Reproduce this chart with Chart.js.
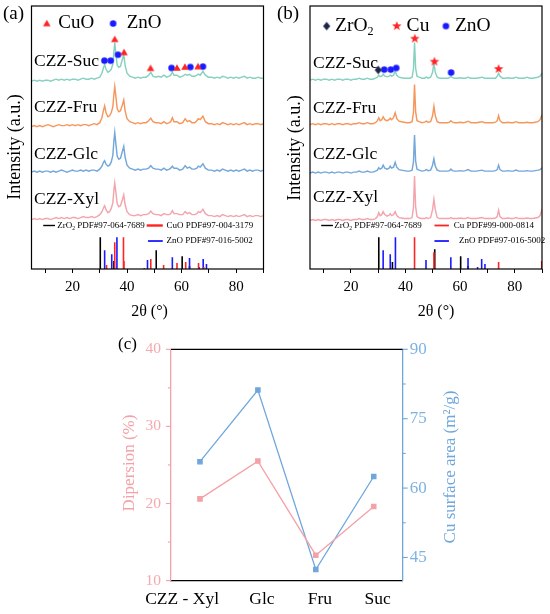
<!DOCTYPE html>
<html><head><meta charset="utf-8">
<script src="https://cdn.jsdelivr.net/npm/chart.js@4.4.1/dist/chart.umd.min.js"></script>
<style>
html,body{margin:0;padding:0;background:#fff;}
body{width:550px;height:614px;position:relative;overflow:hidden;}
.box{position:absolute;}
</style></head><body>
<div class="box" style="left:0;top:0;width:275px;height:322px"><canvas id="ca"></canvas></div>
<div class="box" style="left:275px;top:0;width:275px;height:322px"><canvas id="cb"></canvas></div>
<div class="box" style="left:100px;top:330px;width:380px;height:284px"><canvas id="cc"></canvas></div>
<script>
// ---------------- DATA ----------------
// Panel (a): XRD of calcined CZZ samples (stacked, a.u.)
const thetaA = [5,6,7,8,9,10,11,12,13,14,15,16,17,18,19,20,21,22,23,24,25,26,27,28,29,
30,30.8,31.4,31.8,32.3,33.0,33.6,34.2,34.8,35.2,35.5,35.9,36.4,37.0,37.6,38.3,38.8,39.3,40.0,
41,42,43,44,45,46,47,47.9,48.7,49.5,50.5,51.5,52.5,53.5,54.5,55.5,
56.0,56.6,57.2,58.3,59.3,60.4,61.3,62.1,62.9,63.8,64.8,65.6,66.1,66.8,67.8,68.7,69.8,
71,72,73,74,75,76,77,78,79,80,81,82,83,84,85,86,87,88,89,90];
const sucA = [190,191,190,191,190,191,191,190,191,192,191,192,191,192,191,192,192,191,192,193,192,192,193,192,193,
194,198,204,206.5,202,199,200,202,207,220,229,218,206,204,205,212,217,206,198,
195,194,193,194,193,194,194,196,199,195,194,195,194,196,194,195,
196,199,196,196,194,195,197,196,197,195,195,196,197,196,200,196,194,
194,193,194,193,195,194,193,194,193,194,193,194,195,193,194,193,193,194,193,193];
const fruA = [144,145,144,145,144,145,146,145,144,145,146,145,145,146,145,146,145,146,145,146,146,145,146,147,146,
148,153,161,165,158,154,155,158,164,177,184.5,175,162,159,160,166,171,160,152,
149,148,147,148,147,148,148,150,152.5,149,148,148,147,149,147,148,
149,153,149,149,147,148,152,149,150,148,148,150,152,151,154.5,149,147,
147,146,147,146,148,147,146,147,146,147,146,147,148,146,147,146,147,147,146,147];
const glcA = [98,99,98,99,98,99,99,98,99,98,99,100,99,98,99,100,99,99,100,99,100,99,100,100,99,
101,104,108,109.5,106,104,105,108,115,130,138,127,114,111,112,119,124,113,105,
102,101,100,101,100,101,101,102,104.5,102,101,101,100,102,100,101,
102,104,102,102,100,101,104.5,102,103,101,101,102,104,103,106.5,102,100,
100,99,100,99,101,100,99,100,99,100,99,100,101,99,100,99,100,100,99,100];
const xylA = [50,51,50,51,50,51,51,50,51,52,51,52,51,52,51,52,52,51,52,53,52,52,53,52,53,
55,58,62,64,60,57,58,61,67,80,87,78,66,63,64,70,75,65,58,
55,54,54,55,54,55,55,56,58.5,56,55,55,54,56,55,55,
56,59,56,56,55,55,58,56,57,55,55,56,58,57,60.5,56,54,
54,53,54,53,55,54,53,54,53,54,53,54,55,53,54,53,54,54,53,54];

// Panel (b): XRD of reduced CZZ samples (stacked, a.u.)
const thetaB = [5,6,7,8,9,10,11,12,13,14,15,16,17,18,19,20,21,22,23,24,25,26,27,28,
29,29.7,30.2,30.7,31.3,31.8,32.4,33.2,34.0,34.4,34.9,35.6,36.2,36.8,37.6,38.5,39.5,40.5,41.5,42.4,42.9,43.3,43.7,44.2,
45,46,47,47.6,48.3,49.2,49.9,50.4,50.9,51.6,52.5,53.5,54.5,55.5,56.1,56.6,57.2,58,59,60.2,61,62,62.9,
64,65,66,67,68,69,70,71,72,73,
73.6,74.1,74.6,
75.5,76.5,77.5,78.5,79.5,80.5,81.5,82.5,83.5,84.5,85.5,86.5,87.5,88.5,
89.3,90];
const sucB = [191,192,191,192,191,192,192,191,192,191,192,192,191,192,192,191,192,192,193,192,192,193,192,192,
193,194,196,194.5,195,197,195,194.5,195,196,195,196,200,196,194,193.5,193,193,193,194,202,229,203,195,
194,193,193,194,193,194,199,208,199,194,193,193,193,193,193.5,195,193.5,193,193,193.5,193,193,194,
193,193,193,193.5,194,193,193,193,193,193,
195,198,195,
193,193,193.5,193,193,194,193,193,193,194,193,193,193.5,194,
195,198];
const fruB = [146,147,146,147,146,147,147,146,147,146,147,147,146,147,147,146,147,147,148,147,147,148,147,147,
148,150,153,150,151,154,151,150,151,152.5,151,153,158,152,149.5,149,148.5,148,148,149,158,186.5,159,150,
149,148,148.5,149.5,148.5,149,155,164.5,155,149,148,148,148,148,148.5,150,148.5,148,148,148.5,148,148.5,149.5,
148,148,148,148.5,149,148,148,148,148,148.5,
150,155,150,
148,148,148.5,148,148,149,148,148,148,148.5,148,148,148.5,149,
151,156];
const glcB = [97,98,97,98,97,98,98,97,98,97,98,98,97,98,98,97,98,98,99,98,98,99,98,98,
99,100,102.5,101,102,105,102,101,102,104,102,103,108,103,100.5,100,99.5,99,99,100,108,135.5,109,101,
100,99,99.5,100.5,99.5,100,105,111.5,104,100,99,99,99,99,99.5,101,99.5,99,99,99.5,99,99.5,100.5,
99,99,99,99.5,100,99,99,99,99,99.5,
100.5,105,100.5,
99,99,99.5,99,99,100,99,99,99,99.5,99,99,99.5,100,
100.5,102.5];
const xylB = [49,50,49,50,49,50,50,49,50,49,50,50,49,50,50,49,50,50,51,50,50,51,50,50,
51,53,57,54,55,58,55,53.5,54.5,56,54,55,58,54,52,51.5,51,51,51,52,62,94,63,53,
51.5,51,51,52,51,52,60,70.5,60,52,51,51,51,51,51,52,51,51,51,51.5,51,51,52,
51,51,51,51.5,52,51,51,51,51,51.5,
53,59.5,53,
51,51,51.5,51,51,52,51,51,51,51.5,51,51,51.5,52,
54,60.5];

// Reference patterns (position 2θ, relative intensity a.u.)
const zro2Pos = [30.2,35.2,50.7,60.2,62.9];
const zro2IntA = [32,8,19,13,3];
const zro2IntB = [32,7,20,13,3];
const znoPos = [31.8,34.4,36.3,47.5,56.6,62.9,66.4,67.9,69.1];
const znoInt = [19,15,32,9,12,11,2,10,5];
const cuoPos = [32.5,35.5,38.7,38.9,46.3,48.7,53.4,58.3,61.5,66.2,68.1];
const cuoInt = [4,27,32,8,1,10,4,6,7,6,2];
const cuPos = [43.3,50.4,74.1,89.9];
const cuInt = [32,17,7,8];

// Phase markers over the CZZ-Suc patterns
const cuoMarkX = [35.5,38.9,48.6,58.3,61.2,66.0];
const cuoMarkY = [232.3,219,203,203.3,204.3,204.7];
const znoMarkXA = [31.7,34.0,36.7,56.3,63.2,67.8];
const znoMarkYA = [210.7,210.7,216.7,203.3,204.3,204.7];
const zro2MarkX = [30.0];
const zro2MarkY = [201.3];
const znoMarkXB = [32.2,34.6,36.6,56.7];
const znoMarkYB = [201.7,201.7,203.3,198.7];
const cuMarkX = [43.4,50.6,74.1];
const cuMarkY = [233,209.7,202.3];

const sampleNames = ['CZZ-Suc','CZZ-Fru','CZZ-Glc','CZZ-Xyl'];
const thetaTicks = [10,20,30,40,50,60,70,80,90];
const thetaLabels = [20,40,60,80];

// Panel (c)
const supports = ['CZZ - Xyl          ','Glc','Fru','Suc'];
const dispersion = [20.6,25.5,13.3,19.6];
const cuArea = [65.7,81.2,42.4,62.5];
const dispTicks = [10,20,30,40];
const dispMinor = [15,25,35];
const areaTicks = [45,60,75,90];
const areaMinor = [52.5,67.5,82.5];

// ---------------- STYLE / HELPERS ----------------
const SERIF = "'Liberation Serif','Times New Roman',serif";
Chart.defaults.font.family = SERIF;
const C_SUC='#86d1bf', C_FRU='#f5975c', C_GLC='#74a7da', C_XYL='#f3a5ae';
const RED='#ff2424', BLUE='#1a1aff', NAVY='#1b2744';
const PINK='#f4a1a7', SKY='#6fa7dc';

function mkMarker(shape,color,size){
  const c=document.createElement('canvas'); c.width=c.height=Math.ceil(size+2);
  const g=c.getContext('2d'); const m=c.width/2, r=size/2;
  g.fillStyle=color; g.beginPath();
  if(shape==='triangle'){g.moveTo(m,m-r);g.lineTo(m+r,m+r*0.75);g.lineTo(m-r,m+r*0.75);}
  else if(shape==='circle'){g.arc(m,m,r,0,Math.PI*2);}
  else if(shape==='diamond'){g.moveTo(m,m-r);g.lineTo(m+r*0.85,m);g.lineTo(m,m+r);g.lineTo(m-r*0.85,m);}
  else if(shape==='star'){for(let i=0;i<10;i++){const a=-Math.PI/2+i*Math.PI/5;const rr=i%2?r*0.42:r;g.lineTo(m+rr*Math.cos(a),m+rr*Math.sin(a));}}
  g.closePath(); g.fill(); return c;
}
const imgTri=mkMarker('triangle',RED,7.5), imgCirc=mkMarker('circle',BLUE,6.5),
      imgStar=mkMarker('star',RED,10), imgDia=mkMarker('diamond',NAVY,8.5);

function pts(xs,ys){return xs.map((x,i)=>({x:x,y:ys[i]}));}
function sticks(pos,ints){const d=[];pos.forEach((p,i)=>{d.push({x:p,y:0},{x:p,y:ints[i]},{x:p,y:null});});return d;}
function curve(xs,ys,color){return {data:pts(xs,ys),borderColor:color,borderWidth:1.45,pointRadius:0,tension:0,fill:false};}
function stickSet(pos,ints,color){return {data:sticks(pos,ints),borderColor:color,borderWidth:1.6,pointRadius:0,spanGaps:false,fill:false};}
function markSet(xs,ys,img){return {data:pts(xs,ys),showLine:false,pointStyle:img,pointRadius:5,pointHoverRadius:5};}

function drawParts(ctx,parts,x,y,size,color,align){
  ctx.fillStyle=color; ctx.textBaseline='middle'; ctx.textAlign='left';
  const ws=parts.map(p=>{const sub=typeof p!=='string';ctx.font=(sub?size*0.62:size)+'px '+SERIF;return ctx.measureText(sub?p.t:p).width;});
  const tot=ws.reduce((a,b)=>a+b,0);
  let cx= align==='center'? x-tot/2 : x;
  parts.forEach((p,i)=>{const sub=typeof p!=='string';ctx.font=(sub?size*0.62:size)+'px '+SERIF;ctx.fillText(sub?p.t:p,cx,y+(sub?size*0.3:0));cx+=ws[i];});
}

function annot(items,opt){
  return {id:'annot',afterDraw(chart){
    const ctx=chart.ctx, ca=chart.chartArea, sx=chart.scales.x, sy=chart.scales.y;
    const X=(it,v)=>it.data?sx.getPixelForValue(v):v;
    const Y=(it,v)=>it.data?sy.getPixelForValue(v):v;
    ctx.save();
    if(opt.frame){ctx.strokeStyle='#000';ctx.lineWidth=1.2;ctx.strokeRect(ca.left,ca.top,ca.right-ca.left,ca.bottom-ca.top);}
    if(opt.extra) opt.extra(chart,ctx);
    for(const it of items){
      if(it.k==='line'){ctx.strokeStyle=it.color;ctx.lineWidth=it.w;ctx.beginPath();ctx.moveTo(X(it,it.x1),Y(it,it.y));ctx.lineTo(X(it,it.x2),Y(it,it.y));ctx.stroke();}
      else if(it.k==='img'){const px=X(it,it.x),py=Y(it,it.y);ctx.drawImage(it.img,px-it.img.width/2,py-it.img.height/2);}
      else if(it.k==='text'){
        const px=X(it,it.x),py=Y(it,it.y);
        if(it.rot){ctx.save();ctx.translate(px,py);ctx.rotate(-Math.PI/2);drawParts(ctx,it.parts,0,0,it.size,it.color||'#000','center');ctx.restore();}
        else drawParts(ctx,it.parts,px,py,it.size,it.color||'#000',it.align||'left');
      }
    }
    ctx.restore();
  }};
}

function xrdOptions(padL,padR){
  return {responsive:true,maintainAspectRatio:false,animation:false,
    layout:{padding:{left:padL,right:padR,top:3,bottom:0}},
    plugins:{legend:{display:false},tooltip:{enabled:false}},
    scales:{
      x:{type:'linear',min:5,max:90,offset:false,
         grid:{drawOnChartArea:false,drawTicks:true,tickLength:4,color:'#000',lineWidth:1},
         border:{display:false},
         afterBuildTicks:s=>{s.ticks=thetaTicks.map(v=>({value:v}));},
         ticks:{autoSkip:false,maxRotation:0,padding:5,color:'#000',font:{family:SERIF,size:15},
                callback:v=>thetaLabels.includes(v)?String(v):''},
         afterFit:s=>{s.height=53;}},
      y:{display:false,min:0,max:266}
    }};
}

// ---------------- PANEL (a) ----------------
const itemsA=[
  {k:'text',parts:['(a)'],x:3,y:14,size:19},
  {k:'text',parts:['Intensity (a.u.)'],x:15.5,y:147,size:18,rot:true},
  {k:'text',parts:['2θ (°)'],x:149.5,y:312,size:16,align:'center'},
  {k:'img',img:imgTri,x:10.6,y:248.3,data:true},
  {k:'text',parts:['CuO'],x:14.8,y:248.3,size:19,data:true},
  {k:'img',img:imgCirc,x:34.9,y:248.3,data:true},
  {k:'text',parts:['ZnO'],x:39.9,y:248.3,size:19,data:true},
  {k:'text',parts:[sampleNames[0]],x:5.9,y:210,size:17.5,data:true},
  {k:'text',parts:[sampleNames[1]],x:5.9,y:163,size:17.5,data:true},
  {k:'text',parts:[sampleNames[2]],x:5.9,y:116,size:17.5,data:true},
  {k:'text',parts:[sampleNames[3]],x:5.9,y:70,size:17.5,data:true},
  {k:'line',x1:9.3,x2:13.6,y:44,color:'#000',w:1.4,data:true},
  {k:'text',parts:['ZrO',{t:'2'},' PDF#97-064-7689'],x:14.45,y:44,size:9,data:true},
  {k:'line',x1:47.2,x2:53.1,y:44,color:RED,w:2.4,data:true},
  {k:'text',parts:['CuO PDF#97-004-3179'],x:54.5,y:44,size:9,data:true},
  {k:'line',x1:47.7,x2:53.1,y:28.3,color:BLUE,w:1.8,data:true},
  {k:'text',parts:['ZnO PDF#97-016-5002'],x:54.5,y:28.3,size:9,data:true}
];
new Chart(document.getElementById('ca'),{
  type:'line',
  data:{datasets:[
    markSet(cuoMarkX,cuoMarkY,imgTri),
    markSet(znoMarkXA,znoMarkYA,imgCirc),
    curve(thetaA,sucA,C_SUC),curve(thetaA,fruA,C_FRU),curve(thetaA,glcA,C_GLC),curve(thetaA,xylA,C_XYL),
    stickSet(cuoPos,cuoInt,RED),stickSet(znoPos,znoInt,BLUE),stickSet(zro2Pos,zro2IntA,'#000')
  ]},
  options:xrdOptions(31.5,11.5),
  plugins:[annot(itemsA,{frame:true})]
});

// ---------------- PANEL (b) ----------------
const itemsB=[
  {k:'text',parts:['(b)'],x:2,y:14,size:19},
  {k:'text',parts:['Intensity (a.u.)'],x:20.5,y:148,size:18,rot:true},
  {k:'text',parts:['2θ (°)'],x:161,y:312,size:16,align:'center'},
  {k:'img',img:imgDia,x:11.1,y:245.7,data:true},
  {k:'text',parts:['ZrO',{t:'2'}],x:14.2,y:245.7,size:19.5,data:true},
  {k:'img',img:imgStar,x:36.8,y:245.7,data:true},
  {k:'text',parts:['Cu'],x:40.4,y:245.7,size:19.5,data:true},
  {k:'img',img:imgCirc,x:54.8,y:245.7,data:true},
  {k:'text',parts:['ZnO'],x:58.1,y:245.7,size:19.5,data:true},
  {k:'text',parts:[sampleNames[0]],x:6.1,y:208,size:17.5,data:true},
  {k:'text',parts:[sampleNames[1]],x:6.1,y:162.3,size:17.5,data:true},
  {k:'text',parts:[sampleNames[2]],x:6.1,y:115.7,size:17.5,data:true},
  {k:'text',parts:[sampleNames[3]],x:6.1,y:72,size:17.5,data:true},
  {k:'line',x1:9.1,x2:13.4,y:44,color:'#000',w:1.4,data:true},
  {k:'text',parts:['ZrO',{t:'2'},' PDF#97-064-7689'],x:13.9,y:44,size:9,data:true},
  {k:'line',x1:50.6,x2:55.9,y:44,color:RED,w:1.8,data:true},
  {k:'text',parts:['Cu PDF#99-000-0814'],x:57.7,y:44,size:9,data:true},
  {k:'line',x1:50.6,x2:55.9,y:28.3,color:BLUE,w:1.8,data:true},
  {k:'text',parts:['ZnO PDF#97-016-5002'],x:59.6,y:28.3,size:9,data:true}
];
new Chart(document.getElementById('cb'),{
  type:'line',
  data:{datasets:[
    markSet(zro2MarkX,zro2MarkY,imgDia),
    markSet(znoMarkXB,znoMarkYB,imgCirc),
    markSet(cuMarkX,cuMarkY,imgStar),
    curve(thetaB,sucB,C_SUC),curve(thetaB,fruB,C_FRU),curve(thetaB,glcB,C_GLC),curve(thetaB,xylB,C_XYL),
    stickSet(cuPos,cuInt,RED),stickSet(znoPos,znoInt,BLUE),stickSet(zro2Pos,zro2IntB,'#000')
  ]},
  options:xrdOptions(35,8),
  plugins:[annot(itemsB,{frame:true})]
});

// ---------------- PANEL (c) ----------------
const itemsC=[
  {k:'text',parts:['(c)'],x:18,y:15,size:17},
  {k:'text',parts:['Dipersion (%)'],x:30,y:133,size:17,rot:true,color:PINK},
  {k:'text',parts:['Cu surface area (m²/g)'],x:350.5,y:137,size:17,rot:true,color:SKY}
];
function ticksC(chart,ctx){
  const ca=chart.chartArea, y=chart.scales.y, y1=chart.scales.y1;
  ctx.strokeStyle='#000';ctx.lineWidth=1.3;ctx.beginPath();ctx.moveTo(ca.left,ca.top);ctx.lineTo(ca.right,ca.top);ctx.stroke();
  ctx.lineWidth=1.1;
  ctx.strokeStyle=PINK;
  dispTicks.concat(dispMinor).forEach(v=>{const p=y.getPixelForValue(v);const L=dispTicks.includes(v)?5:3;ctx.beginPath();ctx.moveTo(ca.left,p);ctx.lineTo(ca.left-L,p);ctx.stroke();});
  ctx.strokeStyle=SKY;
  areaTicks.concat(areaMinor).forEach(v=>{const p=y1.getPixelForValue(v);const L=areaTicks.includes(v)?5:3;ctx.beginPath();ctx.moveTo(ca.right,p);ctx.lineTo(ca.right+L,p);ctx.stroke();});
}
new Chart(document.getElementById('cc'),{
  type:'line',
  data:{labels:supports,datasets:[
    {label:'Dipersion (%)',data:dispersion,yAxisID:'y',borderColor:PINK,backgroundColor:PINK,borderWidth:1.3,pointStyle:'rect',pointRadius:3,tension:0},
    {label:'Cu surface area (m²/g)',data:cuArea,yAxisID:'y1',borderColor:SKY,backgroundColor:SKY,borderWidth:1.3,pointStyle:'rect',pointRadius:3,tension:0}
  ]},
  options:{responsive:true,maintainAspectRatio:false,animation:false,
    layout:{padding:{left:20,right:20,top:17.3,bottom:0}},
    plugins:{legend:{display:false},tooltip:{enabled:false}},
    scales:{
      x:{type:'category',offset:true,grid:{display:false,drawTicks:false},border:{display:true,color:'#000',width:1.3},
         ticks:{padding:8,labelOffset:4,maxRotation:0,autoSkip:false,color:'#000',font:{family:SERIF,size:17.5}},
         afterFit:s=>{s.height=33.4;}},
      y:{position:'left',min:10,max:40,grid:{drawOnChartArea:false,drawTicks:false},border:{color:PINK,width:1.3},
         afterBuildTicks:s=>{s.ticks=dispTicks.map(v=>({value:v}));},
         ticks:{padding:10,color:'#f6a8ae',font:{family:SERIF,size:15.5}},
         afterFit:s=>{s.width=51;}},
      y1:{position:'right',min:40,max:90,grid:{drawOnChartArea:false,drawTicks:false},border:{color:SKY,width:1.3},
         afterBuildTicks:s=>{s.ticks=areaTicks.map(v=>({value:v}));},
         ticks:{padding:7,color:'#7fb2e2',font:{family:SERIF,size:17}},
         afterFit:s=>{s.width=57.3;}}
    }},
  plugins:[annot(itemsC,{extra:ticksC})]
});
</script></body></html>
